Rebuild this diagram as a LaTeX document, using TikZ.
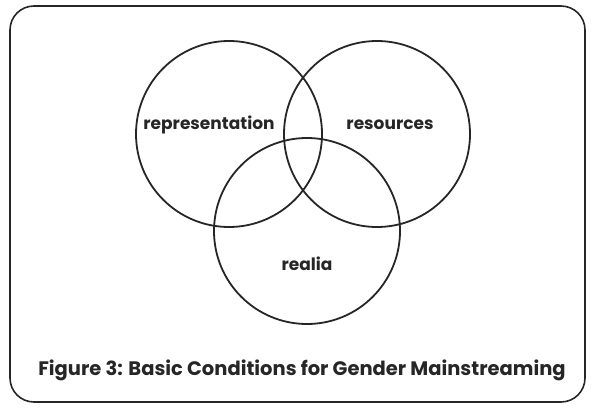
\documentclass[tikz,border=0pt]{standalone}
\usepackage{fontspec}
\setmainfont{Poppins}
\begin{document}
\begin{tikzpicture}[x=1pt,y=-1pt,
  venn/.style={draw=black!85,line width=1.8pt},
  lbl/.style={font=\bfseries\fontsize{17}{19}\selectfont,text=black!85},
  captext/.style={font=\bfseries\fontsize{19.5}{22}\selectfont,text=black!85}]
\useasboundingbox (0,0) rectangle (593,409);
\draw[line width=1.6pt,draw=black!85,rounded corners=24pt] (10,6) rectangle (585,402);
\node[venn,circle,minimum size=186pt,inner sep=0pt] (rep) at (229,134) {};
\node[venn,circle,minimum size=186pt,inner sep=0pt] (res) at (377,134) {};
\node[venn,circle,minimum size=186pt,inner sep=0pt] (rea) at (307,231) {};
\node[lbl] (trep) at (209,125) {representation};
\node[lbl] (tres) at (390,125) {resources};
\node[lbl] (trea) at (307,264) {realia};
\node[captext] (tcap) at (302,370) {Figure 3: Basic Conditions for Gender Mainstreaming};
\end{tikzpicture}
\end{document}
